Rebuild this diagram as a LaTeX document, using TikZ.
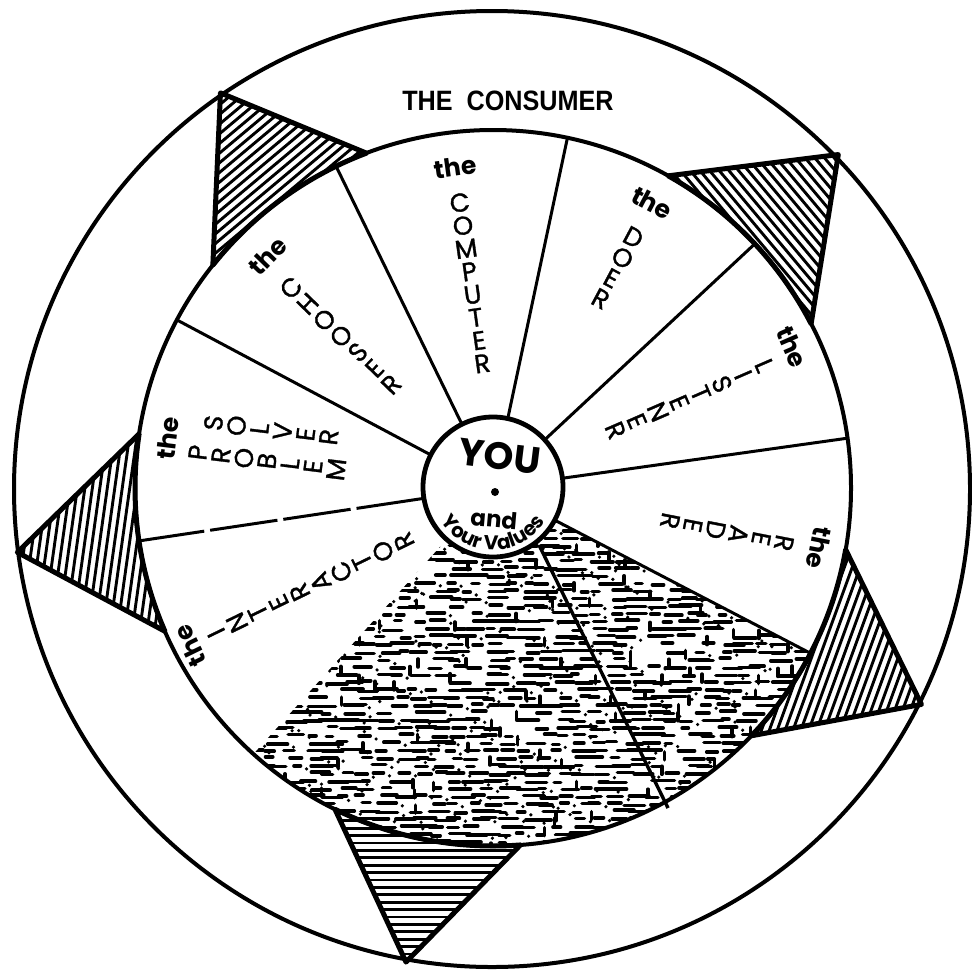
\documentclass[tikz,border=0pt]{standalone}
\usepackage{fontspec}
\setmainfont{Poppins}
\setsansfont{Liberation Sans}
\newfontfamily\stackfont{Poppins}[FakeBold=1.2]
\usetikzlibrary{decorations.text}
\newcommand{\rimpt}[3]{\coordinate (#1) at ({493+#3*cos(#2)},{488-#3*sin(#2)});}
\newcommand{\hatchlines}[3]{%
  \foreach \k in {-36,...,36}{%
    \draw[hl] ({#1+\k*7.4*sin(#3)-260*cos(#3)},{#2+\k*7.4*cos(#3)+260*sin(#3)})
           -- ({#1+\k*7.4*sin(#3)+260*cos(#3)},{#2+\k*7.4*cos(#3)-260*sin(#3)});}}
\begin{document}
\begin{tikzpicture}[x=0.5pt,y=-0.5pt,
  rimline/.style={line width=2pt},
  spoke/.style={line width=1.5pt},
  tri/.style={line width=2.5pt,line join=round},
  hl/.style={line width=1.45pt},
  texdash/.style={line width=1.8pt,line cap=round},
  stack/.style={align=center,inner sep=0pt,font=\stackfont\fontsize{13}{11.6}\selectfont},
  thelbl/.style={inner sep=0pt,font=\bfseries\fontsize{12.5}{12}\selectfont},
]
\useasboundingbox (0,0) rectangle (972,969);

% ---------- textured "pyramid" sector ----------
\rimpt{pyA}{332.5}{70}
\rimpt{pyB}{332.5}{358}
\rimpt{pyC}{228}{358}
\rimpt{pyD}{228}{70}
\begin{scope}
  \clip (pyA) -- (pyB) arc[start angle=-332.5,end angle=-228,radius=358]
        -- (pyD) arc[start angle=-228,end angle=-332.5,radius=70] -- cycle;
  \pgfmathsetseed{12}
  \foreach \r in {0,...,45}{
    \foreach \c in {0,...,33}{
      \pgfmathsetmacro{\xx}{228+\c*18+rnd*12}
      \pgfmathsetmacro{\yy}{506+\r*7.6+rnd*3}
      \pgfmathsetmacro{\ll}{6+rnd*16}
      \pgfmathsetmacro{\pp}{rnd}
      \ifdim\pp pt<0.8pt \draw[texdash] (\xx,\yy) -- ++(\ll,0); \fi
      \ifdim\pp pt>0.91pt \draw[texdash] (\xx,\yy) -- ++(0,8); \fi
      \ifdim\pp pt<0.3pt \fill (\xx+\ll+6,\yy+3) circle[radius=1.8]; \fi
    }
  }
\end{scope}
\coordinate (ridgeT) at (539,545);
\coordinate (ridgeB) at (668,808);
\draw[line width=1.7pt] (ridgeT) -- (ridgeB);

% ---------- hatched star points ----------
% T1 top-left
\rimpt{tAa}{124.6}{480}\rimpt{tAb}{110.7}{358}\rimpt{tAc}{141.5}{358}
\begin{scope}
  \clip (tAa) -- (tAb) arc[start angle=-110.7,end angle=-141.5,radius=358] -- cycle;
  \hatchlines{280}{170}{40}
\end{scope}
\draw[tri] (tAa) -- (tAb) arc[start angle=-110.7,end angle=-141.5,radius=358] -- cycle;
% T2 top-right
\rimpt{tBa}{44}{480}\rimpt{tBb}{60.7}{358}\rimpt{tBc}{27.3}{358}
\begin{scope}
  \clip (tBa) -- (tBb) arc[start angle=-60.7,end angle=-27.3,radius=358] -- cycle;
  \hatchlines{780}{220}{-50}
\end{scope}
\draw[tri] (tBa) -- (tBb) arc[start angle=-60.7,end angle=-27.3,radius=358] -- cycle;
% T3 left
\rimpt{tCa}{187.7}{480}\rimpt{tCb}{171.3}{358}\rimpt{tCc}{203.6}{358}
\begin{scope}
  \clip (tCa) -- (tCb) arc[start angle=-171.3,end angle=-203.6,radius=358] -- cycle;
  \hatchlines{100}{540}{82}
\end{scope}
\draw[tri] (tCa) -- (tCb) arc[start angle=-171.3,end angle=-203.6,radius=358] -- cycle;
% T4 right
\rimpt{tDa}{-26.8}{480}\rimpt{tDb}{-9.9}{358}\rimpt{tDc}{-43.8}{358}
\begin{scope}
  \clip (tDa) -- (tDb) arc[start angle=9.9,end angle=43.8,radius=358] -- cycle;
  \hatchlines{850}{660}{70}
\end{scope}
\draw[tri] (tDa) -- (tDb) arc[start angle=9.9,end angle=43.8,radius=358] -- cycle;
% T5 bottom
\rimpt{tEa}{259.6}{482}\rimpt{tEb}{243.8}{358}\rimpt{tEc}{274.4}{358}
\begin{scope}
  \clip (tEa) -- (tEb) arc[start angle=-243.8,end angle=-274.4,radius=358] -- cycle;
  \hatchlines{430}{880}{0}
\end{scope}
\draw[tri] (tEa) -- (tEb) arc[start angle=-243.8,end angle=-274.4,radius=358] -- cycle;

% ---------- circles ----------
\coordinate (O) at (493,488);
\draw[rimline] (492,489) circle[radius=478];
\draw[rimline] (O) circle[radius=358];

% ---------- spokes ----------
\foreach \a in {116,78,43,8,-27.5,152}{
  \draw[spoke] ({493+70*cos(\a)},{488-70*sin(\a)}) -- ({493+358*cos(\a)},{488-358*sin(\a)});
}
\draw[spoke,dash pattern=on 34pt off 3pt] ({493+70*cos(188.5)},{488-70*sin(188.5)}) -- ({493+358*cos(188.5)},{488-358*sin(188.5)});

% ---------- centre ----------
\node[draw,circle,line width=2.4pt,fill=white,minimum size=70pt,inner sep=0pt] (you) at (493,487) {};
\node[font=\bfseries\fontsize{19}{19}\selectfont,rotate=-7,inner sep=0pt] (youtxt) at (500,456) {YOU};
\fill (495,492) circle[radius=4];
\node[font=\bfseries\fontsize{11.5}{11}\selectfont,rotate=-5,inner sep=0pt] (andtxt) at (494,519) {and};
\path[decorate,decoration={text along path,text align=center,
  text={|\bfseries\fontsize{10}{10}\selectfont|Your Values}}]
  ({493+62*cos(200)},{488-62*sin(200)}) arc[start angle=160,end angle=20,radius=62];

% ---------- title ----------
\node[font=\sffamily\bfseries\fontsize{14}{14}\selectfont,xscale=0.9,inner sep=0pt] (consumer) at (508,101) {THE\ \ CONSUMER};

% ---------- sector labels ----------
\node[stack,rotate=46] (chooser) at (341,336) {C\\H\\O\\O\\S\\E\\R};
\node[thelbl,rotate=46] (theA) at (268,256) {the};
\node[stack,rotate=8] (computer) at (471,283) {C\\O\\M\\P\\U\\T\\E\\R};
\node[thelbl,rotate=8] (theB) at (455,167) {the};
\node[stack,rotate=-28] (doer) at (617,268) {D\\O\\E\\R};
\node[thelbl,rotate=-28] (theC) at (652,203) {the};
\node[stack,rotate=-66.5] (listener) at (690,398) {L\\I\\S\\T\\E\\N\\E\\R};
\node[thelbl,rotate=-66.5] (theD) at (792,347) {the};
\node[stack,rotate=-101] (reader) at (727,532) {R\\E\\A\\D\\E\\R};
\node[thelbl,rotate=-101] (theE) at (819,548) {the};
\node[stack,rotate=83] (problem) at (267,461) {P\\R\\O\\B\\L\\E\\M};
\node[stack,rotate=83] (solver) at (271,430) {S\\O\\L\\V\\E\\R};
\node[thelbl,rotate=83] (theF) at (168,438) {the};
\node[stack,rotate=116] (interactor) at (310,587) {I\\N\\T\\E\\R\\A\\C\\T\\O\\R};
\node[thelbl,rotate=116] (theG) at (190,646) {the};
\end{tikzpicture}
\end{document}
